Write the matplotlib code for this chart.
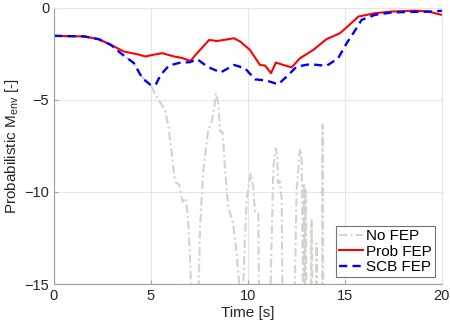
import numpy as np
import matplotlib
matplotlib.use("Agg")
import matplotlib.pyplot as plt

plt.rcParams['font.family'] = ['Liberation Sans', 'DejaVu Sans']
plt.rcParams['mathtext.fontset'] = 'custom'
plt.rcParams['mathtext.rm'] = 'Liberation Sans'
plt.rcParams['mathtext.it'] = 'Liberation Sans'

# Prob FEP (red)
t_prob = [0, 1.55, 2.3, 2.92, 3.6, 4.3, 4.72, 5.1, 5.58, 6.19, 6.6, 7.04, 7.3, 7.56, 8.0,
          8.4, 8.76, 9.28, 9.6, 10.1, 10.62, 10.88, 11.19, 11.44, 11.82, 12.25, 12.68,
          13.37, 14.05, 14.74, 15.2, 15.7, 16.55, 17.4, 18.6, 19.3, 20.0]
m_prob = [-1.52, -1.55, -1.7, -2.0, -2.37, -2.52, -2.64, -2.55, -2.46, -2.64, -2.72, -2.88, -2.55,
          -2.25, -1.74, -1.8, -1.74, -1.65, -1.83, -2.28, -3.1, -3.13, -3.55, -2.97,
          -3.1, -3.23, -2.74, -2.28, -1.7, -1.38, -0.95, -0.47, -0.29, -0.2, -0.15,
          -0.2, -0.38]

# SCB FEP (blue)
t_scb = [0, 1.55, 2.3, 2.92, 3.44, 4.12, 4.55, 4.98, 5.24, 5.5, 5.93, 6.53, 7.0, 7.39, 7.9,
         8.59, 9.28, 9.85, 10.36, 10.96, 11.56, 12.0, 12.51, 13.2, 14.05, 14.65,
         15.09, 15.6, 15.86, 16.55, 17.4, 18.4, 19.47, 20.0]
m_scb = [-1.52, -1.55, -1.7, -2.0, -2.46, -3.0, -3.82, -4.18, -4.18, -3.64, -3.13,
         -2.97, -2.95, -2.79, -3.19, -3.51, -3.1, -3.28, -3.88, -3.95, -4.15, -3.73,
         -3.19, -3.06, -3.15, -2.74, -1.92, -1.1, -0.65, -0.38, -0.25, -0.22, -0.2,
         -0.16]

# No FEP (grey)
t_no = [0, 1.55, 2.3, 2.92, 3.44, 4.12, 4.55, 4.98, 5.29, 5.72, 5.9, 6.07, 6.24, 6.46,
        6.63, 6.8, 6.92, 7.06, 7.2, 7.44, 7.53, 7.7, 7.95, 8.13, 8.25, 8.35, 8.47,
        8.56, 8.69, 8.81, 8.98, 9.24, 9.38, 9.55, 9.62, 9.72, 9.93, 10.14, 10.27,
        10.36, 10.53, 10.57, 10.65, 11.1, 11.17, 11.31, 11.43, 11.5, 11.56, 11.65,
        11.74, 11.77, 11.85, 12.35, 12.42, 12.51, 12.68, 12.77, 12.84, 12.88, 12.92,
        12.97, 13.02, 13.1, 13.24, 13.28, 13.32, 13.5, 13.54, 13.58, 13.82, 13.85,
        13.88]
m_no = [-1.52, -1.55, -1.7, -2.0, -2.46, -3.0, -3.75, -4.2, -4.82, -5.54, -6.45, -7.9,
        -9.44, -9.62, -10.52, -10.34, -11.52, -14.78, -16, -16, -11.88, -8.8, -6.63,
        -6.18, -5.54, -4.64, -5.18, -6.72, -6.72, -8.62, -10.8, -11.7, -12.97, -15.0,
        -16, -16, -10.43, -9.0, -9.71, -11.07, -11.16, -15, -16, -16, -15, -8.62,
        -7.63, -7.9, -9.53, -9.44, -10.43, -15, -16, -16, -15, -9.9, -7.63, -8.26,
        -16, -9.5, -16, -9.8, -16, -16, -16, -11.52, -16, -16, -12.79, -16, -16,
        -6.36, -16]

fig = plt.figure(figsize=(4.5, 3.28), dpi=100)
ax = fig.add_axes([0.12, 0.134, 0.862, 0.842])

ax.plot(t_no, m_no, color='#d6d2cb', linestyle=(0, (4, 1.5, 1, 1.5)), linewidth=1.5,
        label='No FEP')
ax.plot(t_prob, m_prob, color='#ff0000', linestyle='-', linewidth=1.5, label='Prob FEP')
ax.plot(t_scb, m_scb, color='#0000ff', linestyle=(0, (3.5, 2.2)), linewidth=1.7,
        label='SCB FEP')

ax.set_xlim(0, 20)
ax.set_ylim(-15, 0)
ax.set_xticks([0, 5, 10, 15, 20])
ax.set_yticks([-15, -10, -5, 0])
ax.grid(True, color='#e6e6e6', linewidth=0.8)
ax.set_axisbelow(True)

for s in ['top', 'right']:
    ax.spines[s].set_color('#e6e6e6')
    ax.spines[s].set_linewidth(0.8)
for s in ['left', 'bottom']:
    ax.spines[s].set_color('#a0a0a0')
    ax.spines[s].set_linewidth(0.8)
ax.tick_params(direction='in', length=3, color='#a0a0a0', labelsize=10.5,
               labelcolor='#262626', top=False, right=False)

ax.set_xlabel('Time [s]', fontsize=11, color='#262626', labelpad=2)
ax.set_ylabel(r'Probabilistic $\mathregular{M_{env}}$ [-]', fontsize=11,
              color='#262626', labelpad=2)

leg = ax.legend(loc='lower right', fontsize=11, frameon=True, fancybox=False,
                handlelength=1.6, handletextpad=0.2, borderpad=0.2,
                labelspacing=0.1, borderaxespad=0.45)
leg.get_frame().set_edgecolor('#505050')
leg.get_frame().set_linewidth(0.8)

fig.savefig('out.png', dpi=100)
